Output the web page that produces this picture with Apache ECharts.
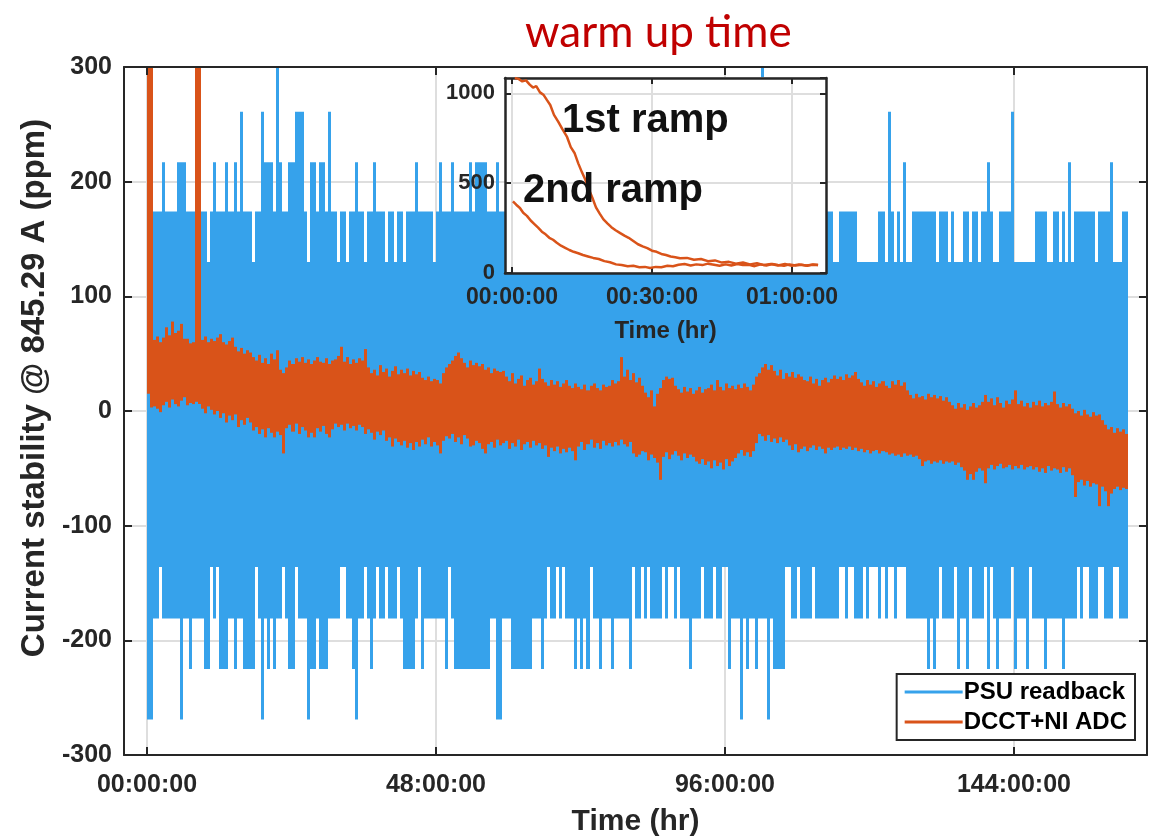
<!DOCTYPE html>
<html>
<head>
<meta charset="utf-8">
<script src="https://cdn.jsdelivr.net/npm/echarts@6/dist/echarts.min.js"></script>
<style>
  html, body { margin: 0; padding: 0; background: #fff; }
  #main { width: 1160px; height: 838px; }
</style>
</head>
<body>
<div id="main"></div>
<script>
// one value pair per 0.5 h bin, starting at 00:00:00 (ppm)
var binHours = 0.5

// PSU readback: highest / lowest quantised level seen in each bin
var psuMax = [
  174,174,174,174,174,217,174,174,174,174, 217,217,217,174,174,174,174,174,174,174,
  130,174,217,174,174,174,217,174,174,217, 174,261,174,174,174,130,174,174,261,217,
  217,217,174,304,217,174,174,217,217,261, 261,261,174,130,217,217,174,217,217,174,
  261,174,174,130,174,174,130,174,174,217, 174,174,130,174,174,217,174,174,174,130,
  174,174,130,174,174,130,174,174,174,217, 174,174,174,174,174,130,174,217,174,174,
  174,217,174,174,174,174,174,217,174,217, 217,217,217,174,174,174,217,174,174,174,
  174,174,130,174,174,174,174,174,174,174, 174,174,174,174,130,174,174,174,174,174,
  174,174,174,174,174,174,174,130,174,174, 174,174,174,174,174,174,174,174,174,174,
  174,174,174,130,174,174,174,174,174,174, 174,174,174,174,174,174,174,174,174,174,
  174,174,174,130,174,174,174,174,174,174, 174,174,174,174,174,174,174,174,174,174,
  174,174,174,174,304,174,174,174,174,174, 174,174,174,174,174,174,174,174,174,174,
  174,174,174,174,174,174,174,174,130,130, 174,174,174,174,174,174,130,130,130,130,
  130,130,130,174,174,130,261,174,130,174, 130,217,130,130,174,174,174,174,174,174,
  174,174,130,174,174,174,130,174,130,130, 130,174,174,130,174,174,130,174,174,217,
  174,130,130,174,174,174,174,261,130,130, 130,130,130,130,130,174,174,174,174,130,
  130,174,174,130,174,130,217,130,174,174, 174,174,174,174,174,130,174,174,174,174,
  217,130,130,130,174,174
]
var psuMin = [
  -269,-269,-181,-181,-136,-181,-181,-181,-181,-181, -181,-269,-181,-181,-225,-181,-181,-181,-181,-225,
  -225,-136,-181,-136,-225,-225,-225,-181,-181,-225, -181,-181,-225,-225,-225,-225,-136,-181,-269,-181,
  -225,-181,-225,-181,-181,-136,-181,-225,-225,-136, -181,-181,-181,-269,-225,-225,-181,-225,-225,-225,
  -181,-181,-181,-181,-136,-136,-181,-181,-225,-269, -181,-181,-136,-181,-225,-181,-136,-181,-181,-136,
  -181,-181,-181,-136,-181,-225,-225,-225,-225,-181, -136,-225,-181,-181,-181,-181,-181,-181,-181,-225,
  -136,-181,-225,-225,-225,-225,-225,-225,-225,-225, -225,-225,-225,-225,-181,-181,-269,-269,-181,-181,
  -181,-225,-225,-225,-225,-225,-225,-225,-181,-181, -181,-225,-181,-136,-181,-181,-136,-181,-136,-181,
  -181,-181,-225,-181,-225,-181,-225,-136,-181,-181, -225,-181,-181,-181,-225,-181,-181,-181,-181,-181,
  -225,-136,-181,-181,-136,-181,-136,-181,-181,-181, -181,-136,-181,-136,-136,-181,-136,-181,-181,-181,
  -225,-181,-181,-181,-136,-181,-181,-181,-136,-181, -181,-136,-136,-225,-181,-181,-181,-269,-181,-225,
  -181,-181,-225,-181,-181,-181,-269,-181,-225,-225, -225,-225,-136,-136,-181,-181,-136,-181,-181,-181,
  -181,-136,-181,-181,-181,-181,-181,-181,-181,-181, -136,-136,-181,-136,-136,-181,-181,-181,-136,-181,
  -136,-136,-136,-181,-136,-181,-136,-136,-181,-136, -136,-136,-181,-181,-181,-181,-181,-181,-181,-225,
  -181,-225,-181,-136,-181,-181,-181,-181,-136,-225, -181,-181,-225,-136,-181,-181,-181,-181,-136,-225,
  -136,-181,-225,-181,-181,-181,-181,-136,-225,-181, -181,-181,-225,-136,-181,-181,-181,-181,-225,-181,
  -181,-181,-181,-181,-225,-181,-181,-181,-181,-136, -181,-136,-136,-181,-181,-181,-136,-136,-181,-181,
  -181,-136,-136,-181,-181,-181
]

// DCCT + NI ADC: upper / lower edge of the noise band in each bin
var dcctMax = [
  1100,300,62,65,60,64,73,66,78,68, 70,76,63,63,59,60,1100,1100,62,65,
  60,63,61,64,67,60,58,61,64,56, 52,55,50,53,51,47,44,49,42,46,
  41,50,45,53,36,33,38,44,41,46, 43,47,42,45,41,44,47,43,42,46,
  41,44,45,48,56,43,47,41,45,42, 46,44,54,38,33,36,31,40,34,37,
  30,35,39,32,36,33,37,31,35,32, 34,29,27,30,26,28,27,24,33,38,
  41,44,48,51,46,42,38,44,40,42, 39,41,36,38,33,37,35,34,35,30,
  26,33,24,28,31,22,27,29,23,26, 37,28,25,22,27,23,26,21,24,27,
  22,20,24,21,19,23,18,22,24,20, 18,23,21,22,27,24,26,47,30,36,
  27,33,25,29,22,16,12,18,4,15, 20,27,30,28,29,22,19,16,21,17,
  20,15,18,21,16,19,20,23,18,27, 21,18,24,20,22,19,23,20,24,21,
  18,23,30,33,38,41,36,40,35,31, 36,28,33,30,34,29,32,30,27,26,
  30,24,28,22,27,29,25,28,31,28, 30,27,32,29,31,34,28,25,22,27,
  23,26,21,24,26,22,20,26,23,27, 22,25,18,14,11,15,12,13,10,15,
  12,14,11,13,9,12,8,5,2,7, 3,6,1,4,7,3,5,8,14,8,
  11,5,12,7,3,9,6,10,18,6, 9,4,7,3,8,5,9,4,7,5,
  8,17,6,3,7,4,6,2,-2,0, -4,1,-3,-5,-1,-4,-3,-8,-12,-16,
  -14,-19,-15,-18,-16,-20
]
var dcctMin = [
  15,3,4,2,-1,5,8,3,10,6, 4,9,12,5,7,6,8,6,2,-2,
  4,1,-3,0,-6,-2,-10,-4,-8,-3, -14,-8,-12,-6,-10,-17,-14,-20,-16,-23,
  -15,-19,-23,-18,-21,-37,-15,-12,-18,-11, -20,-14,-17,-23,-19,-23,-15,-18,-13,-20,
  -23,-16,-11,-14,-12,-17,-11,-15,-13,-17, -12,-14,-20,-16,-19,-25,-18,-21,-17,-26,
  -23,-31,-24,-27,-30,-26,-32,-28,-34,-27, -31,-25,-29,-23,-31,-27,-30,-37,-26,-22,
  -24,-20,-27,-23,-29,-21,-24,-31,-30,-26, -28,-33,-37,-29,-27,-32,-25,-30,-28,-26,
  -33,-28,-31,-25,-34,-29,-27,-32,-26,-30, -28,-33,-30,-40,-32,-35,-31,-37,-33,-36,
  -32,-35,-43,-31,-27,-34,-29,-25,-32,-28, -33,-26,-30,-28,-31,-27,-30,-25,-29,-31,
  -27,-37,-40,-38,-35,-36,-43,-38,-41,-45, -60,-40,-36,-42,-38,-35,-39,-43,-37,-41,
  -38,-40,-44,-46,-42,-47,-44,-50,-43,-48, -45,-51,-42,-48,-44,-41,-37,-34,-39,-36,
  -40,-35,-28,-20,-22,-26,-21,-27,-24,-28, -23,-27,-25,-30,-34,-29,-36,-33,-31,-35,
  -32,-30,-34,-31,-33,-37,-32,-34,-32,-31, -34,-32,-33,-31,-34,-32,-35,-33,-36,-34,
  -37,-35,-34,-37,-35,-36,-38,-37,-39,-38, -40,-37,-39,-38,-40,-39,-42,-48,-44,-43,
  -46,-44,-45,-43,-46,-44,-45,-44,-47,-45, -49,-52,-60,-55,-60,-53,-50,-52,-63,-50,
  -47,-51,-48,-46,-50,-49,-47,-51,-48,-50, -47,-51,-49,-48,-51,-49,-53,-50,-54,-48,
  -52,-50,-51,-54,-49,-53,-50,-56,-75,-62, -60,-65,-61,-66,-63,-64,-83,-66,-70,-83,
  -72,-68,-66,-69,-67,-68
]

// inset: first hour after switch-on, [minutes, ppm]
var ramp1 = [
  [0.6,1085],[1.4,1080],[2.2,1066],[3.0,1072],[3.8,1048],[4.5,1032],[5.2,1040],[6.0,1005],
  [6.8,990],[7.5,962],[8.2,935],[9.0,880],[9.9,842],[10.8,800],[11.8,757],[12.6,700],
  [13.4,668],[14.2,610],[15.0,560],[15.7,520],[16.4,470],[17.2,420],[18.0,365],[18.8,330],
  [19.6,298],[20.5,275],[21.3,255],[22.2,238],[23.2,222],[24.1,208],[25.0,196],[26.0,178],
  [27.0,160],[28.0,148],[29.0,138],[30.0,124],[31.0,118],[32.0,106],[33.0,100],[34.0,92],
  [35.0,88],[36.0,82],[37.5,84],[39.0,74],[40.5,78],[42.0,66],[43.5,70],[45.0,58],
  [46.5,62],[48.0,52],[49.5,58],[51.0,48],[52.5,54],[54.0,44],[55.5,50],[57.0,42],
  [58.5,50],[60.0,40],[61.5,48],[63.0,42],[64.5,46],[65.6,45]
]
var ramp2 = [
  [0.2,398],[0.9,380],[1.7,362],[2.4,335],[3.2,318],[4.0,292],[4.8,272],[5.6,252],
  [6.4,230],[7.2,215],[8.0,196],[8.8,185],[9.6,168],[10.5,152],[11.4,140],[12.3,128],
  [13.2,118],[14.2,110],[15.2,100],[16.3,92],[17.4,84],[18.6,78],[19.8,66],[21.0,60],
  [22.3,48],[23.5,44],[24.8,38],[26.0,40],[27.3,32],[28.5,34],[29.6,28],[30.8,34],
  [32.0,32],[33.3,40],[34.5,38],[35.7,46],[37.0,50],[38.3,42],[39.5,48],[40.8,44],
  [42.0,52],[43.3,46],[44.5,40],[45.8,48],[47.0,42],[48.3,50],[49.5,44],[50.8,46],
  [52.0,38],[53.3,48],[54.5,42],[55.8,50],[57.0,44],[58.3,40],[59.5,48],[60.8,42],
  [62.0,46],[63.3,40],[64.5,48],[65.6,44]
]

var mainTicks = [0, 48, 96, 144]   // hours
var insetTicks = [0, 30, 60]       // minutes

var blue = '#36a2eb'
var orange = '#d95319'
var ink = '#262626'
var gridGray = '#dedede'
var font = 'Liberation Sans, Arial, sans-serif'

function pad (n) { return (n < 10 ? '0' : '') + n }
function hourLabel (h) { return pad(h) + ':00:00' }
function minuteLabel (m) { return pad(Math.floor(m / 60)) + ':' + pad(m % 60) + ':00' }

// [bin start, top, bottom] for the custom band series
function bins (hi, lo) {
  return hi.map(function (v, i) { return [i * binHours, v, lo[i]] })
}

// each bin is one filled column from its lowest to its highest reading
function bandItem (color) {
  return function (params, api) {
    var t = api.value(0)
    var a = api.coord([t, api.value(1)])
    var b = api.coord([t + binHours, api.value(2)])
    var x0 = Math.round(a[0])
    var x1 = Math.round(b[0])
    var cs = params.coordSys
    var rect = echarts.graphic.clipRectByRect(
      { x: x0, y: a[1], width: x1 - x0, height: b[1] - a[1] },
      { x: cs.x, y: cs.y, width: cs.width, height: cs.height }
    )
    return rect && { type: 'rect', shape: rect, style: { fill: color } }
  }
}

function label (size, extra) {
  return Object.assign({ color: ink, fontSize: size, fontWeight: 'bold', fontFamily: font }, extra || {})
}

function frameAxis (opts) {
  // mirrored axis for the box: line + inward ticks, no labels
  return Object.assign({
    type: 'value',
    axisLine: { show: true, onZero: false, lineStyle: { color: ink, width: 2 } },
    axisTick: { show: true, inside: true, length: 8, lineStyle: { color: ink, width: 2 } },
    axisLabel: { show: false },
    splitLine: { show: false }
  }, opts)
}

var chart = echarts.init(document.getElementById('main'))

chart.setOption({
  animation: false,
  backgroundColor: '#fff',
  title: {
    text: 'warm up time',
    left: 520,
    top: 6,
    textStyle: { color: '#c00000', fontSize: 44, fontWeight: 'normal', fontFamily: 'Lato' }
  },
  legend: {
    data: [{ name: 'PSU readback', icon: 'rect' }, { name: 'DCCT+NI ADC', icon: 'rect' }],
    orient: 'vertical',
    right: 25,
    bottom: 98,
    itemWidth: 58,
    itemHeight: 3,
    itemGap: 6,
    padding: [6, 8, 6, 8],
    backgroundColor: '#fff',
    borderColor: ink,
    borderWidth: 2,
    textStyle: label(24, { color: '#000', padding: [0, 0, 0, -4] }),
    z: 10
  },
  grid: [
    { left: 124, top: 67, width: 1023, height: 688, outerBoundsMode: 'none' },
    {
      left: 505, top: 78, width: 321, height: 195, outerBoundsMode: 'none',
      show: true, backgroundColor: '#fff', borderWidth: 0, z: 5
    }
  ],
  xAxis: [
    {
      type: 'value', gridIndex: 0, min: -3.82, max: 166.1,
      axisLine: { onZero: false, lineStyle: { color: ink, width: 2 } },
      axisTick: { inside: true, length: 8, customValues: mainTicks, lineStyle: { color: ink, width: 2 } },
      axisLabel: label(25, { customValues: mainTicks, formatter: hourLabel, margin: 18 }),
      splitLine: { show: true, lineStyle: { color: gridGray, width: 2 } },
      name: 'Time (hr)', nameLocation: 'middle', nameGap: 52,
      nameTextStyle: label(30)
    },
    frameAxis({
      gridIndex: 0, position: 'top', min: -3.82, max: 166.1, z: 3,
      axisTick: { show: true, inside: true, length: 8, customValues: mainTicks, lineStyle: { color: ink, width: 2 } }
    }),
    {
      type: 'value', gridIndex: 1, min: -1.5, max: 67.3, z: 6,
      axisLine: { onZero: false, lineStyle: { color: ink, width: 2.5 } },
      axisTick: { inside: true, length: 6, customValues: insetTicks, lineStyle: { color: ink, width: 2 } },
      axisLabel: label(23, { customValues: insetTicks, formatter: minuteLabel, margin: 13 }),
      splitLine: { show: true, lineStyle: { color: gridGray, width: 2 } },
      name: 'Time (hr)', nameLocation: 'middle', nameGap: 46,
      nameTextStyle: label(24)
    },
    frameAxis({
      gridIndex: 1, position: 'top', min: -1.5, max: 67.3, z: 6,
      axisLine: { show: true, onZero: false, lineStyle: { color: ink, width: 2.5 } },
      axisTick: { show: true, inside: true, length: 6, customValues: insetTicks, lineStyle: { color: ink, width: 2 } }
    })
  ],
  yAxis: [
    {
      type: 'value', gridIndex: 0, min: -300, max: 300, interval: 100,
      axisLine: { show: true, onZero: false, lineStyle: { color: ink, width: 2 } },
      axisTick: { show: true, inside: true, length: 8, lineStyle: { color: ink, width: 2 } },
      axisLabel: label(25, { margin: 12 }),
      splitLine: { show: true, lineStyle: { color: gridGray, width: 2 } },
      name: 'Current stability @ 845.29 A (ppm)', nameLocation: 'middle', nameGap: 67,
      nameTextStyle: label(33, { padding: [0, 0, 0, 46] })
    },
    frameAxis({ gridIndex: 0, position: 'right', min: -300, max: 300, interval: 100, z: 3 }),
    {
      type: 'value', gridIndex: 1, min: 0, max: 1085, interval: 500, z: 6,
      axisLine: { show: true, onZero: false, lineStyle: { color: ink, width: 2.5 } },
      axisTick: { show: true, inside: true, length: 6, lineStyle: { color: ink, width: 2 } },
      axisLabel: label(22, { margin: 10, formatter: function (v) { return String(v) } }),
      splitLine: { show: true, lineStyle: { color: gridGray, width: 2 } }
    },
    frameAxis({
      gridIndex: 1, position: 'right', min: 0, max: 1085, interval: 500, z: 6,
      axisLine: { show: true, onZero: false, lineStyle: { color: ink, width: 2.5 } },
      axisTick: { show: true, inside: true, length: 6, lineStyle: { color: ink, width: 2 } }
    })
  ],
  graphic: [
    { type: 'text', left: 562, top: 101, z: 20, style: { text: '1st ramp', font: 'bold 40px Liberation Sans', fill: '#111' } },
    { type: 'text', left: 523, top: 171, z: 20, style: { text: '2nd ramp', font: 'bold 40px Liberation Sans', fill: '#111' } }
  ],
  series: [
    {
      name: 'PSU readback', type: 'custom', xAxisIndex: 0, yAxisIndex: 0,
      data: bins(psuMax, psuMin), encode: { x: 0, y: [1, 2] },
      renderItem: bandItem(blue), itemStyle: { color: blue }, z: 2
    },
    {
      name: 'DCCT+NI ADC', type: 'custom', xAxisIndex: 0, yAxisIndex: 0,
      data: bins(dcctMax, dcctMin), encode: { x: 0, y: [1, 2] },
      renderItem: bandItem(orange), itemStyle: { color: orange }, z: 3
    },
    {
      name: '1st ramp', type: 'line', xAxisIndex: 2, yAxisIndex: 2,
      data: ramp1, symbol: 'none', z: 7,
      lineStyle: { color: orange, width: 2.5 }
    },
    {
      name: '2nd ramp', type: 'line', xAxisIndex: 2, yAxisIndex: 2,
      data: ramp2, symbol: 'none', z: 7,
      lineStyle: { color: orange, width: 2.5 }
    }
  ]
})
</script>
</body>
</html>
